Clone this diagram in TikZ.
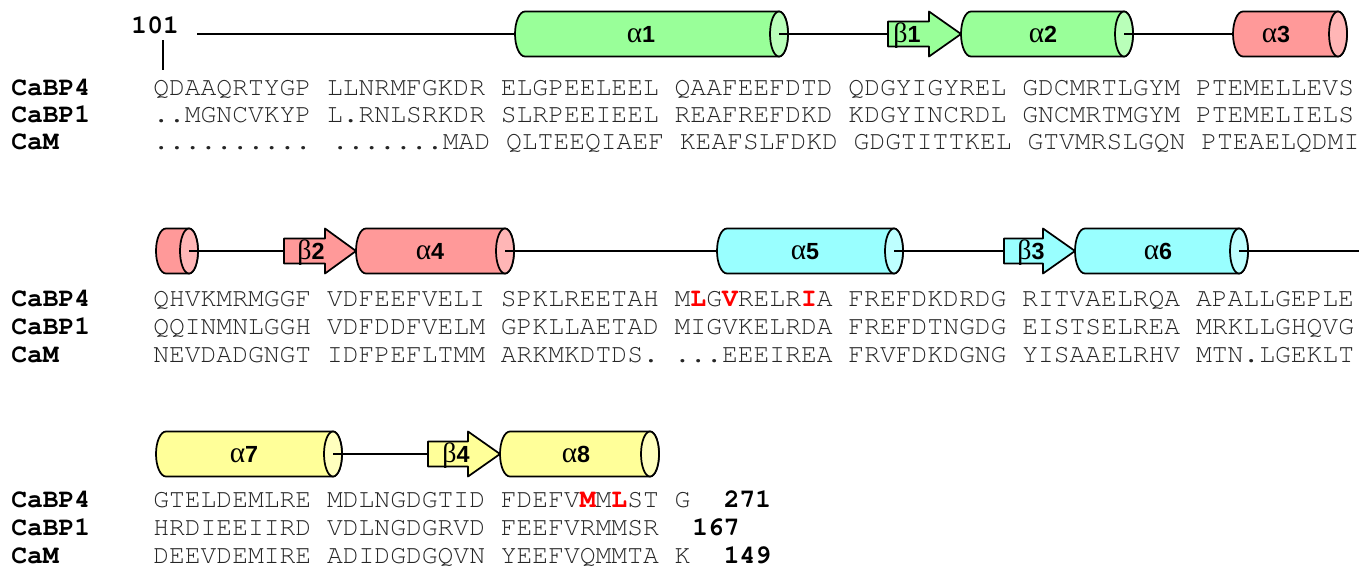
\documentclass[tikz,border=0pt]{standalone}
\usepackage{fontspec}
\setmainfont{Liberation Sans}
\newfontfamily\seqfont{TeX Gyre Cursor}
\newfontfamily\grkfont{Liberation Serif}
\newfontfamily\lblfont{Liberation Sans}
\definecolor{hgreen}{RGB}{153,255,153}
\definecolor{hgreenL}{RGB}{185,255,185}
\definecolor{hred}{RGB}{255,153,153}
\definecolor{hredL}{RGB}{255,182,182}
\definecolor{hcyan}{RGB}{153,255,255}
\definecolor{hcyanL}{RGB}{190,255,255}
\definecolor{hyel}{RGB}{255,255,153}
\definecolor{hyelL}{RGB}{255,255,190}
\definecolor{seqred}{RGB}{255,0,0}
\newcommand\redres[1]{{\color{seqred}\bfseries #1}}
\tikzset{
  outline/.style={draw=black, line width=1.3pt, line join=round},
  connector/.style={draw=black, line width=1.1pt},
  seq/.style={inner sep=0pt, anchor=base west, font={\seqfont\fontsize{19.75pt}{24pt}\selectfont}, text=black!85},
  seqname/.style={inner sep=0pt, anchor=base west, font={\seqfont\bfseries\fontsize{19.75pt}{24pt}\selectfont}, text=black},
  sslabel/.style={inner sep=0pt, anchor=base, font={\lblfont\bfseries\fontsize{17.5pt}{20pt}\selectfont}},
}
\newcommand\helixshape[6]{%
  \pgfmathsetmacro\hxa{#2+10}%
  \pgfmathsetmacro\hxb{#3-9}%
  \pgfmathsetmacro\hyt{#4-22.5}%
  \pgfmathsetmacro\hyb{#4+22.5}%
  \draw[outline, fill=#5] (\hxb,\hyt) -- (\hxa,\hyt) arc[start angle=90, end angle=270, x radius=7.5pt, y radius=16.875pt] -- (\hxb,\hyb) arc[start angle=-90, end angle=90, x radius=6.75pt, y radius=16.875pt] -- cycle;
  \draw[outline, fill=#6] (\hxb,#4) ellipse[x radius=6.75pt, y radius=16.875pt];
  \coordinate (#1-in) at (#2,#4);
  \coordinate (#1-out) at (\hxb,#4);
}
\newcommand\strandshape[6]{%
  \pgfmathsetmacro\sya{#5-12.5}%
  \pgfmathsetmacro\syb{#5+12.5}%
  \pgfmathsetmacro\syc{#5-22.5}%
  \pgfmathsetmacro\syd{#5+22.5}%
  \draw[outline, fill=#6] (#2,\sya) -- (#3,\sya) -- (#3,\syc) -- (#4,#5) -- (#3,\syd) -- (#3,\syb) -- (#2,\syb) -- cycle;
  \coordinate (#1-in) at (#2,#5);
  \coordinate (#1-out) at (#4,#5);
}
\newcommand\alab[1]{{\grkfont\mdseries\fontsize{22pt}{24pt}\selectfont α}#1}
\newcommand\blab[1]{{\grkfont\mdseries\fontsize{21pt}{24pt}\selectfont β}#1}
\begin{document}
\begin{tikzpicture}[x=0.75pt, y=-0.75pt]
\useasboundingbox (0,0) rectangle (1359,578);
% ---------- row 1 structure ----------
\helixshape{a1}{515}{788}{34}{hgreen}{hgreenL}
\strandshape{b1}{888}{929}{961}{34}{hgreen}
\helixshape{a2}{961}{1133}{34}{hgreen}{hgreenL}
\helixshape{a3}{1233}{1347}{34}{hred}{hredL}
\coordinate (s1) at (197,34);
\draw[connector] (s1) -- (a1-in);
\draw[connector] (a1-out) -- (b1-in);
\draw[connector] (a2-out) -- (a3-in);
\node[sslabel] (la1) at (641,42) {\alab{1}};
\node[sslabel] (lb1) at (907,42) {\blab{1}};
\node[sslabel] (la2) at (1043,42) {\alab{2}};
\node[sslabel] (la3) at (1276,42) {\alab{3}};
\node[seqname] (n101) at (131.2,33) {101};
\coordinate (t1) at (163,40);
\coordinate (t2) at (163,70);
\draw[black, line width=1.5pt] (t1) -- (t2);
% ---------- row 2 structure ----------
\helixshape{a3b}{156}{198}{251}{hred}{hredL}
\strandshape{b2}{284}{325}{356}{251}{hred}
\helixshape{a4}{356}{514}{251}{hred}{hredL}
\helixshape{a5}{717}{903}{251}{hcyan}{hcyanL}
\strandshape{b3}{1004}{1043}{1075}{251}{hcyan}
\helixshape{a6}{1075}{1248}{251}{hcyan}{hcyanL}
\coordinate (e2) at (1359,251);
\draw[connector] (a3b-out) -- (b2-in);
\draw[connector] (a4-out) -- (a5-in);
\draw[connector] (a5-out) -- (b3-in);
\draw[connector] (a6-out) -- (e2);
\node[sslabel] (lb2) at (311,259) {\blab{2}};
\node[sslabel] (la4) at (430,259) {\alab{4}};
\node[sslabel] (la5) at (805,259) {\alab{5}};
\node[sslabel] (lb3) at (1031,259) {\blab{3}};
\node[sslabel] (la6) at (1158,259) {\alab{6}};
% ---------- row 3 structure ----------
\helixshape{a7}{156}{342}{454}{hyel}{hyelL}
\strandshape{b4}{428}{468}{500}{454}{hyel}
\helixshape{a8}{500}{659}{454}{hyel}{hyelL}
\draw[connector] (a7-out) -- (b4-in);
\node[sslabel] (la7) at (244,462) {\alab{7}};
\node[sslabel] (lb4) at (456,462) {\blab{4}};
\node[sslabel] (la8) at (576,462) {\alab{8}};
% ---------- block 1 sequences ----------
\node[seqname] (n11) at (11,95) {CaBP4};
\node[seqname] (n12) at (11,122.5) {CaBP1};
\node[seqname] (n13) at (11,149.5) {CaM};
\node[seq] (s11) at (153,95) {QDAAQRTYGP LLNRMFGKDR ELGPEELEEL QAAFEEFDTD QDGYIGYREL GDCMRTLGYM PTEMELLEVS};
\node[seq] (s12) at (153,122.5) {..MGNCVKYP L.RNLSRKDR SLRPEEIEEL REAFREFDKD KDGYINCRDL GNCMRTMGYM PTEMELIELS};
\node[seq] (s13) at (153,149.5) {.......... .......MAD QLTEEQIAEF KEAFSLFDKD GDGTITTKEL GTVMRSLGQN PTEAELQDMI};
% ---------- block 2 sequences ----------
\node[seqname] (n21) at (11,306) {CaBP4};
\node[seqname] (n22) at (11,334) {CaBP1};
\node[seqname] (n23) at (11,362) {CaM};
\node[seq] (s21) at (153,306) {QHVKMRMGGF VDFEEFVELI SPKLREETAH M\redres{L}G\redres{V}RELR\redres{I}A FREFDKDRDG RITVAELRQA APALLGEPLE};
\node[seq] (s22) at (153,334) {QQINMNLGGH VDFDDFVELM GPKLLAETAD MIGVKELRDA FREFDTNGDG EISTSELREA MRKLLGHQVG};
\node[seq] (s23) at (153,362) {NEVDADGNGT IDFPEFLTMM ARKMKDTDS. ...EEEIREA FRVFDKDGNG YISAAELRHV MTN.LGEKLT};
% ---------- block 3 sequences ----------
\node[seqname] (n31) at (11,507) {CaBP4};
\node[seqname] (n32) at (11,535) {CaBP1};
\node[seqname] (n33) at (11,563) {CaM};
\node[seq] (s31) at (153,507) {GTELDEMLRE MDLNGDGTID FDEFV\redres{M}M\redres{L}ST G};
\node[seq] (s32) at (153,535) {HRDIEEIIRD VDLNGDGRVD FEEFVRMMSR};
\node[seq] (s33) at (153,563) {DEEVDEMIRE ADIDGDGQVN YEEFVQMMTA K};
\node[seqname] (e31) at (723.5,507) {271};
\node[seqname] (e32) at (692,535) {167};
\node[seqname] (e33) at (723.5,563) {149};
\end{tikzpicture}
\end{document}
